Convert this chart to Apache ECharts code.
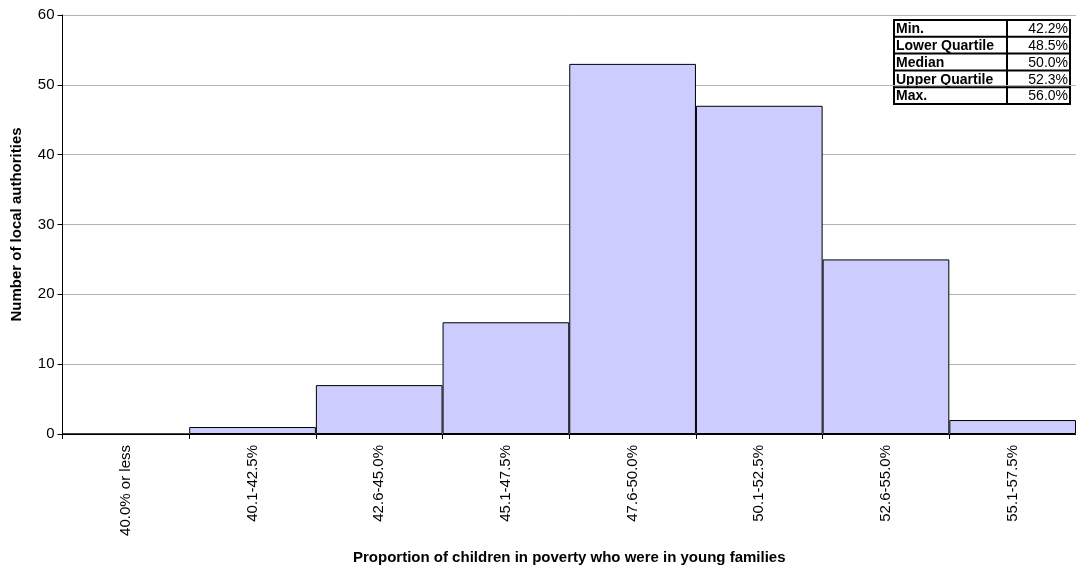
<!DOCTYPE html>
<html>
<head>
<meta charset="utf-8">
<script src="https://cdn.jsdelivr.net/npm/echarts@6/dist/echarts.min.js"></script>
<style>
  html, body { margin: 0; padding: 0; background: #fff; }
  #chart { width: 1076px; height: 570px; }
</style>
</head>
<body>
<div id="chart"></div>
<script>
var categories = ['40.0% or less', '40.1-42.5%', '42.6-45.0%', '45.1-47.5%', '47.6-50.0%', '50.1-52.5%', '52.6-55.0%', '55.1-57.5%'];
var counts = [0, 1, 7, 16, 53, 47, 25, 2];
var statLabels = ['Min.', 'Lower Quartile', 'Median', 'Upper Quartile', 'Max.'];
var statValues = ['42.2%', '48.5%', '50.0%', '52.3%', '56.0%'];

var font = 'Arial, "Liberation Sans", sans-serif';

// summary table in the top right corner
var tableX = 894, tableY = 20, colW = 113, valW = 63, rowH = 16.8;
var tableEls = [];
tableEls.push({
  type: 'rect',
  shape: { x: tableX, y: tableY, width: colW + valW, height: rowH * statLabels.length },
  style: { fill: '#fff', stroke: '#000', lineWidth: 2 }
});
for (var i = 0; i < statLabels.length; i++) {
  var y = tableY + i * rowH;
  if (i > 0) {
    tableEls.push({
      type: 'line',
      shape: { x1: tableX, y1: y, x2: tableX + colW + valW, y2: y },
      style: { stroke: '#000', lineWidth: 2 }
    });
  }
  tableEls.push({
    type: 'text',
    style: { x: tableX + 2, y: y + rowH / 2 + 1, text: statLabels[i], font: 'bold 14px ' + font, fill: '#000', verticalAlign: 'middle', align: 'left' }
  });
  tableEls.push({
    type: 'text',
    style: { x: tableX + colW + valW - 2, y: y + rowH / 2 + 1, text: statValues[i], font: '14px ' + font, fill: '#000', verticalAlign: 'middle', align: 'right' }
  });
}
tableEls.push({
  type: 'line',
  shape: { x1: tableX + colW, y1: tableY, x2: tableX + colW, y2: tableY + rowH * statLabels.length },
  style: { stroke: '#000', lineWidth: 2 }
});

var chart = echarts.init(document.getElementById('chart'), null, { renderer: 'canvas' });
chart.setOption({
  animation: false,
  textStyle: { fontFamily: font },
  grid: { left: 62.5, right: -4, top: 15, bottom: 134 },
  xAxis: {
    type: 'category',
    data: categories,
    name: 'Proportion of children in poverty who were in young families',
    nameLocation: 'middle',
    nameGap: 116,
    nameTextStyle: { fontWeight: 'bold', fontSize: 15, color: '#000', fontFamily: font },
    axisLine: { lineStyle: { color: '#000', width: 1 } },
    axisTick: { show: true, length: 5, lineStyle: { color: '#000' } },
    axisLabel: { rotate: 90, fontSize: 15, color: '#000', margin: 11, fontFamily: font, interval: 0 },
    splitLine: { show: false }
  },
  yAxis: {
    type: 'value',
    min: 0,
    max: 60,
    interval: 10,
    name: 'Number of local authorities',
    nameLocation: 'middle',
    nameGap: 38,
    nameTextStyle: { fontWeight: 'bold', fontSize: 15, color: '#000', fontFamily: font },
    axisLine: { show: true, lineStyle: { color: '#000', width: 1 } },
    axisTick: { show: true, length: 5, lineStyle: { color: '#000' } },
    axisLabel: { fontSize: 15, color: '#000', margin: 8, fontFamily: font },
    splitLine: { lineStyle: { color: '#b4b4b4', width: 1 } }
  },
  series: [{
    type: 'bar',
    data: counts,
    barCategoryGap: '0%',
    itemStyle: { color: '#ccccff', borderColor: '#000', borderWidth: 1 }
  }],
  graphic: tableEls
});
</script>
</body>
</html>
